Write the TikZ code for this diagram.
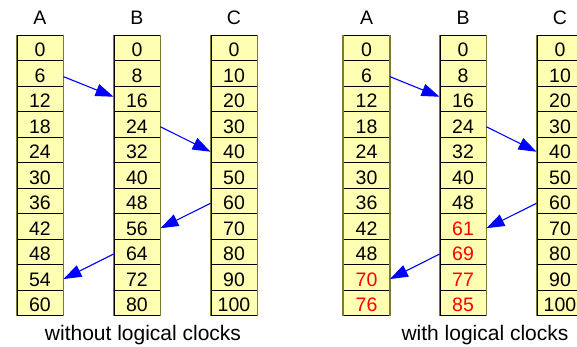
\documentclass[tikz,border=0pt]{standalone}
\usepackage{fontspec}
\setmainfont{Liberation Sans}
\usetikzlibrary{arrows.meta}
\definecolor{cellfill}{HTML}{FFFFB3}
\definecolor{celledge}{HTML}{7A7A30}
\definecolor{msgblue}{HTML}{0000FF}
\newcommand\late[1]{\textcolor{red}{#1}}
% one process column: #1 name prefix, #2 left x, #3 header, #4 clock values
\newcommand\clockcol[4]{%
  \node[head] (#1-h) at (#2+23,25) {#3};
  \foreach \v [count=\i from 0] in {#4} {
    \node[cell] (#1-\i) at (#2+23,{35+25.5*\i+12.75}) {\v};
  }
  \draw[edge] (#1-0.north west) -- (#1-10.south west);
  \draw[edge] (#1-0.north east) -- (#1-10.south east);
}
\begin{document}
\begin{tikzpicture}[x=1pt,y=-1pt,
  cell/.style={draw=black,line width=0.9pt,fill=cellfill,minimum width=46pt,
    minimum height=25.5pt,inner sep=0pt,text height=18pt,text depth=0pt,
    font=\fontsize{19.5}{22}\selectfont},
  head/.style={anchor=base,inner sep=0pt,font=\fontsize{19.5}{22}\selectfont},
  edge/.style={draw=celledge,line width=1.6pt},
  msg/.style={draw=msgblue,line width=1.1pt,-{Triangle[length=18pt,width=12.5pt]},
    fill=msgblue},
  caption/.style={anchor=base,inner sep=0pt,font=\fontsize{21}{24}\selectfont}]
\useasboundingbox (0,0) rectangle (577,347);

% without logical clocks
\clockcol{LA}{17}{A}{0,6,12,18,24,30,36,42,48,54,60}
\clockcol{LB}{114}{B}{0,8,16,24,32,40,48,56,64,72,80}
\clockcol{LC}{211}{C}{0,10,20,30,40,50,60,70,80,90,100}
\draw[msg] ([yshift=-3.4pt]LA-1.east) -- ([yshift=2pt]LB-2.west);
\draw[msg] ([yshift=-2.5pt]LB-3.east) -- ([yshift=-2pt]LC-4.west);
\draw[msg] ([yshift=-2.5pt]LC-6.west) -- ([yshift=-2pt]LB-7.east);
\draw[msg] ([yshift=-2.3pt]LB-8.west) -- ([yshift=-1.8pt]LA-9.east);
\node[caption] (lcap) at (143,340.5) {without logical clocks};

% with logical clocks
\clockcol{RA}{343.5}{A}{0,6,12,18,24,30,36,42,48,\late{70},\late{76}}
\clockcol{RB}{440}{B}{0,8,16,24,32,40,48,\late{61},\late{69},\late{77},\late{85}}
\clockcol{RC}{537}{C}{0,10,20,30,40,50,60,70,80,90,100}
\draw[msg] ([yshift=-3.4pt]RA-1.east) -- ([yshift=2pt]RB-2.west);
\draw[msg] ([yshift=-2.5pt]RB-3.east) -- ([yshift=-2pt]RC-4.west);
\draw[msg] ([yshift=-2.5pt]RC-6.west) -- ([yshift=-2pt]RB-7.east);
\draw[msg] ([yshift=-2.3pt]RB-8.west) -- ([yshift=-1.8pt]RA-9.east);
\node[caption] (rcap) at (485,340.5) {with logical clocks};
\end{tikzpicture}
\end{document}
